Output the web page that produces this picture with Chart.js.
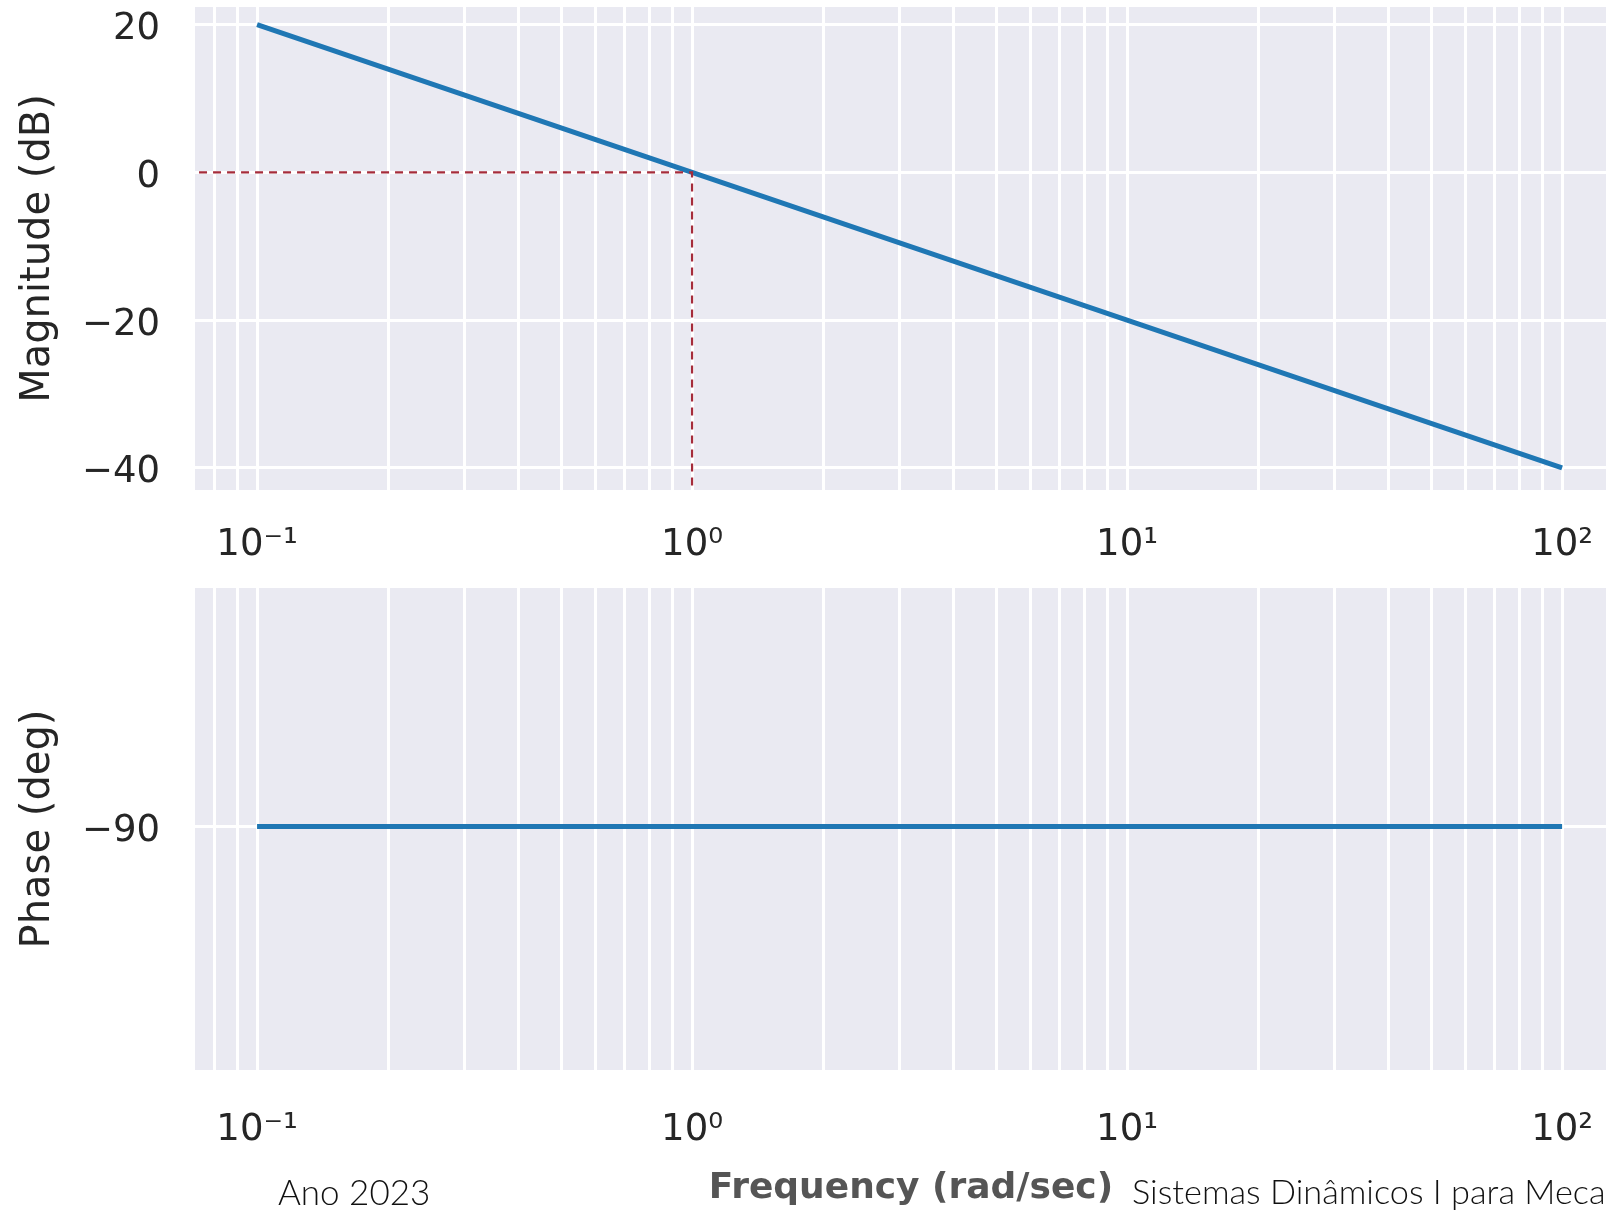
<!DOCTYPE html>
<html>
<head>
<meta charset="utf-8">
<script src="https://cdn.jsdelivr.net/npm/chart.js@4"></script>
<style>
  body { margin: 0; background: #fff; width: 1606px; height: 1210px; overflow: hidden; position: relative; }
  canvas { position: absolute; left: 0; }
  #magChart { top: 0; }
  #phaseChart { top: 575px; }
  .foot { position: absolute; font-family: Lato, "Open Sans", sans-serif; font-weight: 300; font-size: 35px; color: #111; white-space: nowrap; }
</style>
</head>
<body>
<canvas id="magChart" width="1627" height="580"></canvas>
<canvas id="phaseChart" width="1627" height="635"></canvas>
<div class="foot" style="left:278px; top:1170px;">Ano 2023</div>
<div class="foot" style="left:1132px; top:1170px; font-size:34.3px;">Sistemas Dinâmicos I para Mecatrônica</div>
<script>
// bode plot data for G(s) = 1/s
var freq = [0.1, 1, 10, 100];
var magDb = [20, 0, -20, -40];
var phaseDeg = [-90, -90, -90, -90];

// crossover guide (0 dB at 1 rad/s)
var crossFreq = [1e-3, 1, 1];
var crossDb = [0, 0, -1e3];

var freqTicks = [];
for (var e = -2; e <= 2; e++) {
  for (var m = 1; m <= 9; m++) {
    var v = m * Math.pow(10, e);
    if (v >= 0.075 && v <= 140) freqTicks.push(Number(v.toPrecision(3)));
  }
}
var decadeLabels = { "0.1": "10\u207B\u00B9", "1": "10\u2070", "10": "10\u00B9", "100": "10\u00B2" };
var magTicks = [-40, -20, 0, 20];
var phaseTicks = [-90];

var xMin = 0.072, xMax = 141;

var tickFont = { family: "DejaVu Sans", size: 37 };
var titleFont = { family: "DejaVu Sans", size: 40 };

var bgPlugin = {
  id: "bg",
  beforeDraw: function (chart) {
    var a = chart.chartArea;
    chart.ctx.save();
    chart.ctx.fillStyle = "#EAEAF2";
    chart.ctx.fillRect(a.left, a.top, a.right - a.left, a.bottom - a.top);
    chart.ctx.restore();
  }
};

function pts(xs, ys) {
  return xs.map(function (x, i) { return { x: x, y: ys[i] }; });
}

function minus(v) {
  return String(v).replace("-", "\u2212");
}

function xScale(height, pad, title) {
  return {
    type: "logarithmic",
    min: xMin,
    max: xMax,
    afterBuildTicks: function (s) { s.ticks = freqTicks.map(function (v) { return { value: v }; }); },
    afterFit: function (s) { s.height = height; s.paddingLeft = 0; s.paddingRight = 0; },
    grid: { color: "#ffffff", lineWidth: 3, drawTicks: false },
    border: { display: false },
    ticks: {
      autoSkip: false,
      maxRotation: 0,
      padding: pad,
      color: "#262626",
      font: tickFont,
      callback: function (v) { return decadeLabels[String(v)] || ""; }
    },
    title: title
  };
}

function yScale(min, max, ticks, label) {
  return {
    min: min,
    max: max,
    afterBuildTicks: function (s) { s.ticks = ticks.map(function (v) { return { value: v }; }); },
    afterFit: function (s) { s.width = 195; s.paddingTop = 0; s.paddingBottom = 0; },
    grid: { color: "#ffffff", lineWidth: 3, drawTicks: false },
    border: { display: false },
    ticks: { padding: 35, labelOffset: 5, color: "#262626", font: tickFont, callback: function (v) { return minus(v); } },
    title: { display: true, text: label, color: "#262626", font: titleFont, padding: { top: 15, bottom: 0 } }
  };
}

new Chart(document.getElementById("magChart"), {
  type: "line",
  data: {
    datasets: [
      {
        data: pts(crossFreq, crossDb),
        borderColor: "#a52c3b",
        borderWidth: 2.2,
        borderDash: [8, 6],
        pointRadius: 0,
        order: 0
      },
      {
        data: pts(freq, magDb),
        borderColor: "#1f77b4",
        borderWidth: 5,
        pointRadius: 0,
        order: 1
      }
    ]
  },
  options: {
    responsive: false,
    animation: false,
    layout: { padding: { top: 7, left: 0, right: 0, bottom: 0 } },
    plugins: { legend: { display: false }, tooltip: { enabled: false } },
    scales: {
      x: xScale(90, 33, { display: false }),
      y: yScale(-43, 22.4, magTicks, "Magnitude (dB)")
    }
  },
  plugins: [bgPlugin]
});

new Chart(document.getElementById("phaseChart"), {
  type: "line",
  data: {
    datasets: [
      {
        data: pts(freq, phaseDeg),
        borderColor: "#1f77b4",
        borderWidth: 5,
        pointRadius: 0
      }
    ]
  },
  options: {
    responsive: false,
    animation: false,
    layout: { padding: { top: 13, left: 0, right: 0, bottom: 0 } },
    plugins: { legend: { display: false }, tooltip: { enabled: false } },
    scales: {
      x: xScale(140, 38, {
        display: true,
        text: "Frequency (rad/sec)",
        color: "#555555",
        font: { family: "DejaVu Sans", size: 36, weight: "bold" },
        padding: { top: 0, bottom: 0 }
      }),
      y: yScale(-100.1, -80.1, phaseTicks, "Phase (deg)")
    }
  },
  plugins: [bgPlugin]
});
</script>
</body>
</html>
